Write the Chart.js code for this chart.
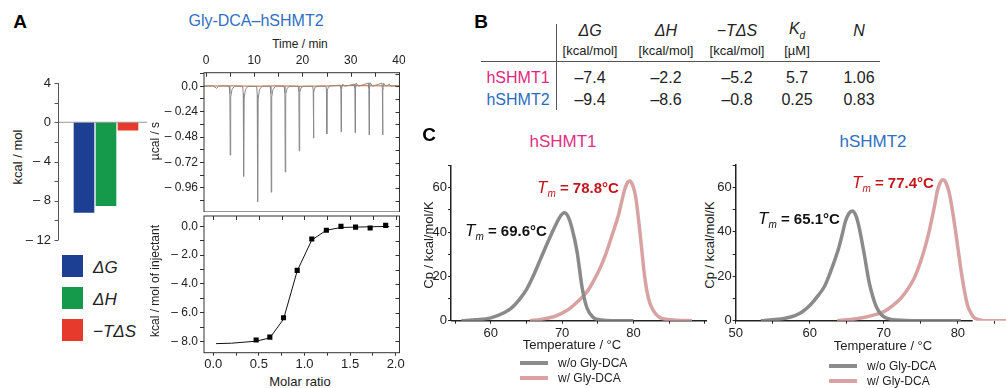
<!DOCTYPE html>
<html>
<head>
<meta charset="utf-8">
<script src="https://cdn.jsdelivr.net/npm/chart.js@4.4.0/dist/chart.umd.min.js"></script>
<style>
body { margin: 0; background: #fff; width: 1006px; height: 388px; position: relative; overflow: hidden;
       font-family: "Liberation Sans", Arial, sans-serif; color: #222; }
canvas { position: absolute; }
.t { position: absolute; white-space: nowrap; line-height: 1; transform: translate(-50%, -50%); }
.l { position: absolute; white-space: nowrap; line-height: 1; transform: translate(0, -50%); }
.rot { position: absolute; white-space: nowrap; line-height: 1; transform: translate(-50%, -50%) rotate(-90deg); }
.sq { position: absolute; width: 21px; height: 22px; }
.ln { position: absolute; height: 4px; width: 28px; }
.tm { font-size: 15px; font-weight: bold; }
.tm i { font-weight: normal; font-size: 17px; }
.tm sub { font-weight: normal; font-style: italic; font-size: 10px; }
.hd { font-size: 16px; font-style: italic; }
.un { font-size: 13px; }
.val { font-size: 16px; }
</style>
</head>
<body>

<!-- panel A -->
<div class="t" style="left:20px;top:21px;font-weight:bold;font-size:19px;color:#000">A</div>
<div class="t" style="left:256px;top:21px;font-size:16px;color:#2f6fc4">Gly-DCA–hSHMT2</div>
<div class="rot" style="left:17px;top:157px;font-size:13px">kcal / mol</div>
<canvas id="thermoChart" width="160" height="180" style="left:0;top:70px"></canvas>
<div class="sq" style="left:62px;top:255px;background:#1c3f94"></div>
<div class="sq" style="left:62px;top:287px;background:#149a4a"></div>
<div class="sq" style="left:62px;top:319px;background:#e63a2c"></div>
<div class="l" style="left:93px;top:267px;font-size:17px;font-style:italic">ΔG</div>
<div class="l" style="left:93px;top:299px;font-size:17px;font-style:italic">ΔH</div>
<div class="l" style="left:93px;top:331px;font-size:17px;font-style:italic">−TΔS</div>

<div class="t" style="left:300px;top:44px;font-size:12px">Time / min</div>
<div class="rot" style="left:155px;top:141px;font-size:12px">µcal / s</div>
<div class="rot" style="left:155px;top:281px;font-size:12px">kcal / mol of injectant</div>
<div class="t" style="left:300px;top:381px;font-size:13px">Molar ratio</div>
<canvas id="rawChart" width="255" height="162" style="left:150px;top:50px"></canvas>
<canvas id="bindChart" width="255" height="160" style="left:150px;top:212px"></canvas>

<!-- panel B -->
<div class="t" style="left:481px;top:21px;font-weight:bold;font-size:19px;color:#000">B</div>
<div style="position:absolute;left:556px;top:24px;width:1px;height:86px;background:#555"></div>
<div style="position:absolute;left:481px;top:61px;width:399px;height:1px;background:#555"></div>
<div class="t hd" style="left:590px;top:31px">ΔG</div>
<div class="t hd" style="left:666px;top:31px">ΔH</div>
<div class="t hd" style="left:737px;top:31px">−TΔS</div>
<div class="t hd" style="left:797px;top:31px">K<sub style="font-size:10px">d</sub></div>
<div class="t hd" style="left:859px;top:31px">N</div>
<div class="t un" style="left:590px;top:50px">[kcal/mol]</div>
<div class="t un" style="left:666px;top:50px">[kcal/mol]</div>
<div class="t un" style="left:737px;top:50px">[kcal/mol]</div>
<div class="t un" style="left:797px;top:50px">[µM]</div>
<div class="t val" style="left:518px;top:78px;color:#e2267e">hSHMT1</div>
<div class="t val" style="left:518px;top:100px;color:#2a6bbf">hSHMT2</div>
<div id="tableRows"></div>

<!-- panel C -->
<div class="t" style="left:429px;top:134px;font-weight:bold;font-size:19px;color:#000">C</div>
<div class="t" style="left:563px;top:141px;font-size:17px;color:#e0307f">hSHMT1</div>
<div class="t" style="left:873px;top:141px;font-size:17px;color:#2f6fc4">hSHMT2</div>
<div class="rot" style="left:428px;top:245px;font-size:13px">Cp / kcal/mol/K</div>
<div class="rot" style="left:709px;top:245px;font-size:13px">Cp / kcal/mol/K</div>
<canvas id="dsc1Chart" width="295" height="190" style="left:420px;top:155px"></canvas>
<canvas id="dsc2Chart" width="306" height="190" style="left:700px;top:155px"></canvas>
<div class="l tm" style="left:465px;top:232px;color:#111"><i>T</i><sub>m</sub> = 69.6°C</div>
<div class="l tm" style="left:537px;top:189px;color:#c3161c"><i>T</i><sub>m</sub> = 78.8°C</div>
<div class="l tm" style="left:758px;top:220px;color:#111"><i>T</i><sub>m</sub> = 65.1°C</div>
<div class="l tm" style="left:852px;top:184px;color:#c3161c"><i>T</i><sub>m</sub> = 77.4°C</div>
<div class="t" style="left:572px;top:344px;font-size:13px">Temperature / °C</div>
<div class="t" style="left:883px;top:345px;font-size:13px">Temperature / °C</div>
<div class="ln" style="left:520px;top:361px;background:#8c8c8c"></div>
<div class="ln" style="left:520px;top:376px;background:#d9a3a3"></div>
<div class="l" style="left:558px;top:363px;font-size:12px">w/o Gly-DCA</div>
<div class="l" style="left:558px;top:378px;font-size:12px">w/ Gly-DCA</div>
<div class="ln" style="left:829px;top:364px;background:#8c8c8c"></div>
<div class="ln" style="left:829px;top:379px;background:#d9a3a3"></div>
<div class="l" style="left:867px;top:366px;font-size:12px">w/o Gly-DCA</div>
<div class="l" style="left:867px;top:381px;font-size:12px">w/ Gly-DCA</div>

<script>
// ---- data ----
// Panel A: thermodynamic signature (kcal/mol)
var thermoLabels = ["ΔG", "ΔH", "−TΔS"];
var thermoValues = [-9.3, -8.6, -0.9];
var thermoColors = ["#1c3f94", "#149a4a", "#e63a2c"];

// Panel A: raw ITC thermogram [time min, µcal/s]
var rawTrace = [
    [-0.4, 0], [1.5, 0.005], [2.2, -0.02], [2.6, 0], [3.5, 0.003],
    [4.8, 0], [4.95, -0.07], [5.02, -0.65], [5.12, -0.1], [5.4, -0.03], [5.9, 0],
    [7.6, 0], [7.72, -0.07], [7.8, -0.85], [7.9, -0.11], [8.2, -0.03], [8.7, 0],
    [10.5, 0], [10.62, -0.08], [10.7, -1.09], [10.8, -0.12], [11.1, -0.03], [11.6, 0],
    [13.3, 0], [13.45, -0.07], [13.52, -1.0], [13.62, -0.1], [13.9, -0.03], [14.4, 0],
    [16.2, 0], [16.35, -0.06], [16.42, -0.81], [16.52, -0.08], [16.8, -0.02], [17.3, 0],
    [19.1, 0], [19.25, -0.05], [19.32, -0.61], [19.42, -0.06], [19.7, -0.015], [20.2, 0],
    [22.1, 0], [22.22, -0.04], [22.28, -0.49], [22.36, -0.05], [22.6, -0.01], [23.1, 0],
    [24.85, 0], [24.97, -0.03], [25.03, -0.45], [25.11, -0.04], [25.4, -0.005], [25.9, 0.005],
    [27.85, 0.01], [27.95, -0.02], [28.0, -0.43], [28.08, -0.03], [28.3, 0.02], [28.8, 0],
    [30.75, 0.02], [30.85, -0.02], [30.9, -0.44], [30.98, -0.03], [31.1, 0.03], [31.6, 0],
    [33.65, 0.03], [33.75, -0.02], [33.8, -0.46], [33.88, -0.03], [34.0, 0.035], [34.5, 0],
    [36.45, 0.03], [36.55, -0.02], [36.6, -0.46], [36.68, -0.03], [36.8, 0.03], [37.3, 0],
    [38.0, 0.02], [38.3, 0], [39.0, 0.005], [40.1, 0]
];
var rawBaseline = [[-0.4, 0.002], [5, 0.004], [10, 0], [15, 0.004], [20, 0], [25, 0.003], [30, 0.006], [35, 0.004], [40.1, 0.003]];

// Panel A: integrated heats
var molarRatio = [0.47, 0.62, 0.77, 0.92, 1.08, 1.24, 1.40, 1.56, 1.72, 1.89];
var injHeat = [-7.9, -7.7, -6.35, -3.06, -0.88, -0.27, 0.0, -0.05, -0.11, 0.07];
var fitRatio = [0.03, 0.2, 0.47, 0.62, 0.77, 0.92, 1.08, 1.24, 1.40, 1.56, 1.72, 1.93];
var fitHeat = [-8.15, -8.12, -7.98, -7.75, -6.45, -3.1, -0.95, -0.27, -0.08, -0.05, -0.03, 0.0];

// Panel B: table values
var tableCols = [590, 666, 737, 797, 859];
var shmt1Row = ["–7.4", "–2.2", "–5.2", "5.7", "1.06"];
var shmt2Row = ["–9.4", "–8.6", "–0.8", "0.25", "0.83"];

// Panel C: DSC thermograms (°C, kcal/mol/K)
var dsc1ApoT = [55.9, 58, 60, 62, 63, 64, 65, 66, 67, 68, 69, 69.8, 70.3, 70.8, 71.4, 72.1, 72.8, 73.5, 74.4, 75.5, 77, 80];
var dsc1ApoCp = [0, 0.4, 1.3, 3.8, 6, 9.5, 14, 20.5, 28, 35.5, 42.5, 47.3, 48.7, 47.2, 41.5, 31, 15, 5.6, 1.4, 0.3, 0, 0];
var dsc1LigT = [65.5, 67, 68.8, 70, 71.1, 72.3, 73.5, 74.5, 75.3, 76, 76.7, 77.3, 77.9, 78.4, 78.8, 79.2, 79.5, 79.9, 80.3, 80.9, 81.6, 82.1, 82.6, 83.7, 85.6, 88.2];
var dsc1LigCp = [0, 0.6, 1.8, 3.4, 5.6, 9, 13.1, 18.5, 23.6, 29, 35.6, 41.5, 47.7, 54.5, 59.5, 62.5, 63, 61, 56, 40, 19, 10, 5.6, 1.4, 0.3, 0];
var dsc2ApoT = [53.4, 55, 56.7, 58, 59, 60, 61.2, 62, 62.8, 63.4, 63.9, 64.4, 64.8, 65.3, 65.75, 66.2, 66.6, 67.3, 68, 68.5, 68.9, 69.4, 70, 71, 71.8, 74, 80.4];
var dsc2ApoCp = [0, 0.4, 1.1, 2.3, 4, 6.8, 11.6, 15.5, 22, 27.5, 32.6, 39, 44.5, 48.3, 49.4, 47.5, 43, 31, 17.6, 11, 7, 3.8, 1.8, 0.6, 0.3, 0, 0];
var dsc2LigT = [63.7, 65.5, 67.3, 68.7, 70, 71.2, 72.3, 73.2, 74.1, 74.8, 75.4, 76, 76.5, 76.9, 77.2, 77.6, 78, 78.4, 78.8, 79.2, 79.7, 80.2, 80.6, 81, 81.3, 81.8, 82.2, 83, 83.5, 86.6];
var dsc2LigCp = [0, 0.5, 1.4, 2.6, 4.1, 6.8, 10.1, 14, 19.1, 25, 31.1, 38.5, 46, 52.5, 58, 62, 63.4, 62, 58, 51, 40, 28, 19, 11.5, 7, 3.2, 1.4, 0.3, 0, 0];

// ---- helpers ----
Chart.defaults.font.family = "'Liberation Sans', Arial, sans-serif";
Chart.defaults.font.size = 12;
Chart.defaults.color = "#222";
Chart.defaults.animation = false;
Chart.defaults.plugins.legend.display = false;
Chart.defaults.plugins.tooltip.enabled = false;

function fixWidth(w) {
    return function (scale) { scale.width = w; scale.paddingTop = 0; scale.paddingBottom = 0; };
}
function fixHeight(h) {
    return function (scale) { scale.height = h; scale.paddingLeft = 0; scale.paddingRight = 0; };
}
function toPoints(xs, ys) {
    return xs.map(function (x, i) { return { x: x, y: ys[i] }; });
}
function pairPoints(list) {
    return list.map(function (p) { return { x: p[0], y: p[1] }; });
}

// table rows
var rowsHtml = "";
tableCols.forEach(function (cx, i) {
    rowsHtml += '<div class="t val" style="left:' + cx + 'px;top:78px">' + shmt1Row[i] + '</div>';
    rowsHtml += '<div class="t val" style="left:' + cx + 'px;top:100px">' + shmt2Row[i] + '</div>';
});
document.getElementById("tableRows").innerHTML = rowsHtml;

// y axis of the bar chart, set a little left of the bars, plus the zero line
var barAxis = {
    id: "barAxis",
    afterDatasetsDraw: function (chart, args, opts) {
        var ctx = chart.ctx, a = chart.chartArea, ys = chart.scales.y;
        var ax = a.left - opts.gap + 0.5, y0 = ys.getPixelForValue(0);
        ctx.save();
        ctx.lineWidth = 1;
        ctx.strokeStyle = "#999";
        ctx.beginPath();
        ctx.moveTo(ax, y0);
        ctx.lineTo(a.right + opts.extend, y0);
        ctx.stroke();
        ctx.strokeStyle = "#555";
        ctx.beginPath();
        ctx.moveTo(ax, a.top);
        ctx.lineTo(ax, a.bottom);
        ys.ticks.forEach(function (t) {
            var py = Math.round(ys.getPixelForValue(t.value)) + 0.5;
            ctx.moveTo(ax, py);
            ctx.lineTo(ax - 4, py);
        });
        ctx.stroke();
        ctx.restore();
    }
};

// box frame with inward ticks on the mirrored sides
var frame = {
    id: "frame",
    afterDraw: function (chart, args, opts) {
        var ctx = chart.ctx, a = chart.chartArea, xs = chart.scales.x, ys = chart.scales.y;
        ctx.save();
        ctx.strokeStyle = "#333";
        ctx.lineWidth = 1;
        ctx.strokeRect(a.left, a.top, a.right - a.left, a.bottom - a.top);
        ctx.beginPath();
        if (opts.topTicks) {
            xs.ticks.forEach(function (t) {
                var px = Math.round(xs.getPixelForValue(t.value)) + 0.5;
                ctx.moveTo(px, a.top);
                ctx.lineTo(px, a.top + 4);
            });
        }
        ys.ticks.forEach(function (t) {
            var py = Math.round(ys.getPixelForValue(t.value)) + 0.5;
            ctx.moveTo(a.right, py);
            ctx.lineTo(a.right - 4, py);
        });
        ctx.stroke();
        ctx.restore();
    }
};

// x axis line of DSC plots, drawn only up to a given temperature
var dscAxis = {
    id: "dscAxis",
    beforeDatasetsDraw: function (chart, args, opts) {
        var ctx = chart.ctx, xs = chart.scales.x, y0 = chart.scales.y.getPixelForValue(0);
        ctx.save();
        ctx.strokeStyle = "#222";
        ctx.lineWidth = 1.5;
        ctx.beginPath();
        ctx.moveTo(xs.getPixelForValue(xs.min), y0);
        ctx.lineTo(xs.getPixelForValue(opts.end), y0);
        ctx.stroke();
        ctx.restore();
    }
};

// ---- Panel A bars ----
var thermoChart = new Chart(document.getElementById("thermoChart").getContext("2d"), {
    type: "bar",
    data: {
        labels: thermoLabels,
        datasets: [{
            data: thermoValues,
            backgroundColor: thermoColors,
            borderColor: "rgba(255,255,255,0.35)",
            borderWidth: 1,
            barPercentage: 1,
            categoryPercentage: 1,
        }],
    },
    options: {
        responsive: false,
        devicePixelRatio: 1,
        layout: { padding: { top: 13, right: 21, bottom: 10, left: 0 } },
        scales: {
            x: { display: false },
            y: {
                min: -12, max: 4,
                afterFit: fixWidth(73),
                border: { display: false },
                grid: { display: false, drawTicks: false },
                ticks: {
                    stepSize: 2, padding: 22, font: { size: 13 },
                    callback: function (v) { return v % 4 === 0 ? (v < 0 ? "– " : "") + Math.abs(v) : ""; },
                },
            },
        },
        plugins: { barAxis: { gap: 15, extend: 8 } },
    },
    plugins: [barAxis],
});

// ---- Panel A raw thermogram ----
var rawChart = new Chart(document.getElementById("rawChart").getContext("2d"), {
    type: "scatter",
    data: {
        datasets: [
            { data: pairPoints(rawTrace), showLine: true, borderColor: "#8a8a8a", borderWidth: 1, pointRadius: 0 },
            { data: pairPoints(rawBaseline), showLine: true, borderColor: "#d4622b", borderWidth: 1, pointRadius: 0 },
        ],
    },
    options: {
        responsive: false,
        devicePixelRatio: 1,
        layout: { padding: { top: 0, right: 5.5, bottom: 0, left: 0 } },
        scales: {
            x: {
                position: "top", min: -0.41, max: 40.1,
                afterFit: fixHeight(22.7),
                border: { display: false },
                grid: { drawOnChartArea: false, drawTicks: false },
                ticks: {
                    stepSize: 5, padding: 5, includeBounds: false, autoSkip: false, maxRotation: 0,
                    callback: function (v) { return v % 10 === 0 ? String(v) : ""; },
                },
            },
            y: {
                min: -1.187, max: 0.128,
                afterFit: fixWidth(54),
                border: { display: false },
                grid: { drawOnChartArea: false, tickLength: 4, color: "#333" },
                ticks: {
                    stepSize: 0.12, padding: 2, includeBounds: false, autoSkip: false,
                    callback: function (v) {
                        var k = Math.round(v / 0.12);
                        if (k % 2 !== 0) return "";
                        return k === 0 ? "0.0" : "– " + Math.abs(k * 0.12).toFixed(2);
                    },
                },
            },
        },
        plugins: { frame: { topTicks: true } },
    },
    plugins: [frame],
});

// ---- Panel A binding isotherm ----
var bindChart = new Chart(document.getElementById("bindChart").getContext("2d"), {
    type: "scatter",
    data: {
        datasets: [
            { data: toPoints(molarRatio, injHeat), pointStyle: "rect", pointRadius: 3.6, backgroundColor: "#000", borderColor: "#000", borderWidth: 0 },
            { data: toPoints(fitRatio, fitHeat), showLine: true, borderColor: "#111", borderWidth: 1, pointRadius: 0 },
        ],
    },
    options: {
        responsive: false,
        devicePixelRatio: 1,
        layout: { padding: { top: 0, right: 5.5, bottom: 0, left: 0 } },
        scales: {
            x: {
                min: -0.102, max: 2.042,
                afterFit: fixHeight(19.3),
                border: { display: false },
                grid: { drawOnChartArea: false, tickLength: 3, color: "#333" },
                ticks: {
                    stepSize: 0.25, padding: 1, includeBounds: false, autoSkip: false, maxRotation: 0, font: { size: 13 },
                    callback: function (v) {
                        var k = Math.round(v / 0.25);
                        return k % 2 === 0 ? (k * 0.25).toFixed(1) : "";
                    },
                },
            },
            y: {
                min: -8.78, max: 0.72,
                afterFit: fixWidth(54),
                border: { display: false },
                grid: { drawOnChartArea: false, tickLength: 4, color: "#333" },
                ticks: {
                    stepSize: 1, padding: 2, includeBounds: false, autoSkip: false,
                    callback: function (v) {
                        if (v % 2 !== 0) return "";
                        return v === 0 ? "0.0" : "– " + Math.abs(v).toFixed(1);
                    },
                },
            },
        },
        plugins: { frame: { topTicks: true } },
    },
    plugins: [frame],
});

// ---- Panel C DSC ----
function dscChart(id, apoT, apoCp, ligT, ligCp, xMin, xMax, axisEnd, yWidth, padTop, padRight) {
    return new Chart(document.getElementById(id).getContext("2d"), {
        type: "scatter",
        data: {
            datasets: [
                { data: toPoints(apoT, apoCp), showLine: true, cubicInterpolationMode: "monotone", borderColor: "#8a8a8a", borderWidth: 3.5, pointRadius: 0 },
                { data: toPoints(ligT, ligCp), showLine: true, cubicInterpolationMode: "monotone", borderColor: "#d9a2a2", borderWidth: 3.5, pointRadius: 0 },
            ],
        },
        options: {
            responsive: false,
            devicePixelRatio: 1,
            layout: { padding: { top: padTop, right: padRight, bottom: 0, left: 0 } },
            scales: {
                x: {
                    min: xMin, max: xMax,
                    afterFit: fixHeight(24.3),
                    border: { display: false },
                    grid: { drawOnChartArea: false, tickLength: 3, color: "#222" },
                    ticks: {
                        stepSize: 5, padding: 2, includeBounds: false, autoSkip: false, maxRotation: 0, font: { size: 13 },
                        callback: function (v) { return v % 10 === 0 && v <= 80 ? String(v) : ""; },
                    },
                },
                y: {
                    min: 0, max: 70,
                    afterFit: fixWidth(yWidth),
                    border: { color: "#222", width: 1.5 },
                    grid: { drawOnChartArea: false, tickLength: 3, color: "#222" },
                    ticks: {
                        stepSize: 10, padding: 1, autoSkip: false, font: { size: 13 },
                        callback: function (v) { return v % 20 === 0 ? String(v) : ""; },
                    },
                },
            },
            plugins: { dscAxis: { end: axisEnd } },
        },
        plugins: [dscAxis],
    });
}

var dsc1Chart = dscChart("dsc1Chart", dsc1ApoT, dsc1ApoCp, dsc1LigT, dsc1LigCp, 54.43, 90.3, 90.3, 31, 10.5, 8);
var dsc2Chart = dscChart("dsc2Chart", dsc2ApoT, dsc2ApoCp, dsc2LigT, dsc2LigCp, 50, 86.5, 82, 35.7, 10.1, 0);
</script>
</body>
</html>
